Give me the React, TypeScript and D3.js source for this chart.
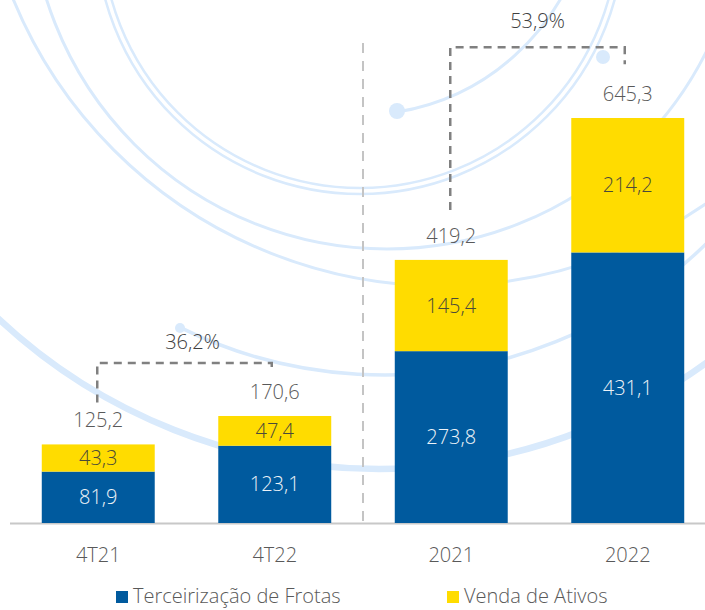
import React from "react";
import * as d3 from "d3";

// ---- Data ----
const categories = ["4T21", "4T22", "2021", "2022"];
const terceirizacao = [81.9, 123.1, 273.8, 431.1];
const vendaAtivos = [43.3, 47.4, 145.4, 214.2];
const totals = [125.2, 170.6, 419.2, 645.3];
const seriesNames = ["Terceirização de Frotas", "Venda de Ativos"];
const growthLabels = ["36,2%", "53,9%"];
const growthFrom = [0, 2];
const growthTo = [1, 3];
const growthLevel = [255, 758];

// ---- Styles ----
const W = 705;
const H = 610;
const BLUE = "#005a9e";
const YELLOW = "#ffdc00";
const TEXT = "#595959";
const ARC = "#d9eafc";
const FONT = "'Open Sans', 'Segoe UI', sans-serif";
const FS = 20;

// decorative background circles: [cx, cy, r, strokeWidth, startDeg, endDeg]
const decoArcs: [number, number, number, number, number | null, number | null][] = [
  [360, -70, 258, 2.5, null, null],
  [360, -70, 264, 2.5, null, null],
  [387, -108, 357, 3, null, null],
  [442, -178, 464, 3, null, null],
  [384, -86, 461, 3.5, 116.2, 20],
  [379, -88, 557, 6.5, null, null],
  [360, -116, 231, 3, 80.8, 15],
];
const decoDots: [number, number, number][] = [
  [180, 328, 5],
  [397, 111, 8],
  [603, 57, 7],
];

const locale = d3.formatLocale({
  decimal: ",",
  thousands: ".",
  grouping: [3],
  currency: ["R$", ""],
});
const fmt = locale.format(".1f");

export default function App() {
  const x = d3
    .scaleBand<string>()
    .domain(categories)
    .range([10, 716])
    .paddingInner(0.36)
    .paddingOuter(0.18);
  const y = d3
    .scaleLinear()
    .domain([0, d3.max(totals) as number])
    .range([523, 118]);

  const rows = categories.map((c, i) => ({
    cat: c,
    t: terceirizacao[i],
    v: vendaAtivos[i],
  }));
  const stack = d3.stack<any>().keys(["t", "v"]);
  const layers = stack(rows);
  const colors = [BLUE, YELLOW];
  const labelColors = ["#eef3f8", "#4a4a3a"];

  const bw = x.bandwidth();
  const cx = (c: string) => (x(c) as number) + bw / 2;

  const sepX =
    ((x(categories[1]) as number) + bw + (x(categories[2]) as number)) / 2;

  const arcPath = (a: (typeof decoArcs)[number]) => {
    const [acx, acy, r, , s, e] = a;
    const p = d3.path();
    if (s === null || e === null) {
      p.moveTo(acx + r, acy);
      p.arc(acx, acy, r, 0, Math.PI * 2);
    } else {
      const s0 = (s * Math.PI) / 180;
      p.moveTo(acx + r * Math.cos(s0), acy + r * Math.sin(s0));
      p.arc(acx, acy, r, s0, ((e as number) * Math.PI) / 180, true);
    }
    return p.toString();
  };

  return (
    <svg
      width={W}
      height={H}
      style={{ position: "absolute", left: 0, top: 0, background: "#fff" }}
      fontFamily={FONT}
    >
      <defs>
        <clipPath id="clipAll">
          <rect x={0} y={0} width={W} height={H} />
        </clipPath>
      </defs>
      <rect x={0} y={0} width={W} height={H} fill="#fff" />
      {/* decorative background */}
      <g clipPath="url(#clipAll)">
        {decoArcs.map((a, i) => (
          <path
            key={i}
            d={arcPath(a)}
            fill="none"
            stroke={ARC}
            strokeWidth={a[3]}
          />
        ))}
        {decoDots.map((d, i) => (
          <circle key={i} cx={d[0]} cy={d[1]} r={d[2]} fill={ARC} />
        ))}
      </g>

      {/* separator */}
      <line
        x1={sepX}
        x2={sepX}
        y1={43}
        y2={y(0) - 2}
        stroke="#c4c4c4"
        strokeWidth={2}
        strokeDasharray="10 8"
      />

      {/* axis line */}
      <line
        x1={10}
        x2={W}
        y1={y(0) + 0.5}
        y2={y(0) + 0.5}
        stroke="#c8c8c8"
        strokeWidth={2}
      />

      {/* bars */}
      {layers.map((layer, li) => (
        <g key={li}>
          {layer.map((d, i) => (
            <rect
              key={i}
              x={x(d.data.cat)}
              y={y(d[1])}
              width={bw}
              height={y(d[0]) - y(d[1])}
              fill={colors[li]}
            />
          ))}
        </g>
      ))}

      {/* segment labels */}
      {layers.map((layer, li) => (
        <g key={"l" + li}>
          {layer.map((d, i) => (
            <text
              key={i}
              x={cx(d.data.cat)}
              y={(y(d[0]) + y(d[1])) / 2 + 7}
              textAnchor="middle"
              fontSize={FS}
              fontWeight={300}
              fill={labelColors[li]}
            >
              {fmt(d[1] - d[0])}
            </text>
          ))}
        </g>
      ))}

      {/* totals */}
      {categories.map((c, i) => (
        <text
          key={c}
          x={cx(c)}
          y={y(totals[i]) - 17}
          textAnchor="middle"
          fontSize={FS}
          fontWeight={300}
          fill={TEXT}
        >
          {fmt(totals[i])}
        </text>
      ))}

      {/* growth connectors */}
      {growthLabels.map((lab, k) => {
        const a = categories[growthFrom[k]];
        const b = categories[growthTo[k]];
        const xa = cx(a) - 1;
        const xb = cx(b) - 3;
        const ly = y(growthLevel[k]);
        const startY = y(totals[growthFrom[k]]) - (k === 0 ? 42 : 50);
        const drop = k === 0 ? 4 : 17;
        return (
          <g key={lab}>
            <path
              d={`M${xa},${startY}V${ly}H${xb}V${ly + drop}`}
              fill="none"
              stroke="#808080"
              strokeWidth={2.5}
              strokeDasharray="8 6"
            />
            <text
              x={(xa + xb) / 2 + (k === 0 ? 8 : 0)}
              y={ly - (k === 0 ? 14 : 19)}
              textAnchor="middle"
              fontSize={FS}
              fontWeight={300}
              fill="#404040"
            >
              {lab}
            </text>
          </g>
        );
      })}

      {/* category labels */}
      {categories.map((c) => (
        <text
          key={"c" + c}
          x={cx(c)}
          y={562}
          textAnchor="middle"
          fontSize={FS}
          fontWeight={300}
          fill={TEXT}
        >
          {c}
        </text>
      ))}

      {/* legend */}
      {seriesNames.map((s, i) => {
        const lx = i === 0 ? 116 : 447;
        return (
          <g key={s}>
            <rect x={lx} y={591} width={12} height={12} fill={colors[i]} />
            <text
              x={lx + 17}
              y={603}
              fontSize={FS}
              fontWeight={300}
              fill={TEXT}
            >
              {s}
            </text>
          </g>
        );
      })}
    </svg>
  );
}
